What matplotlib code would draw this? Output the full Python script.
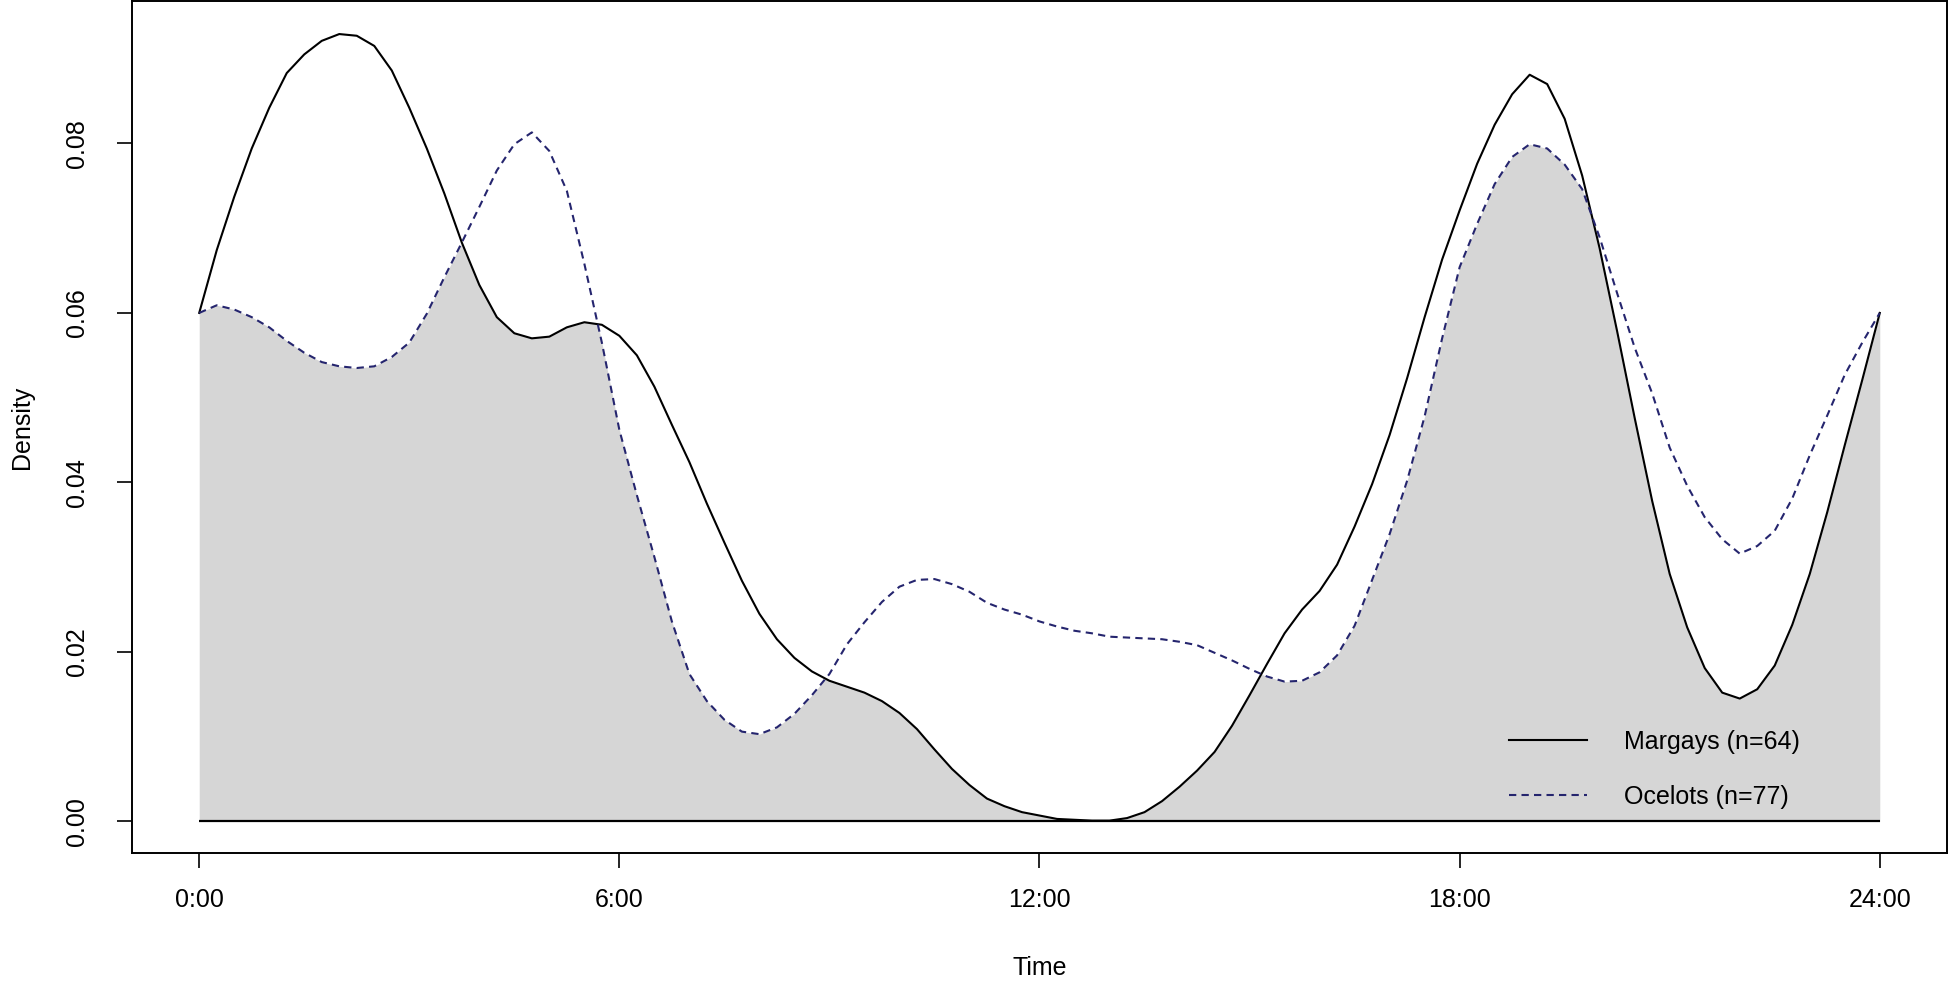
import numpy as np
import matplotlib
matplotlib.use("Agg")
import matplotlib.pyplot as plt

plt.rcParams["font.family"] = ["Liberation Sans", "DejaVu Sans"]

# time of day (hours) and kernel density, every 15 min
hours = np.arange(0, 24.25, 0.25)

margays = [0.0600, 0.0674, 0.0737, 0.0794, 0.0842, 0.0883, 0.0905, 0.0921,
           0.0929, 0.0927, 0.0915, 0.0886, 0.0842, 0.0794, 0.0741, 0.0683,
           0.0633, 0.0595, 0.0576, 0.0570, 0.0572, 0.0583, 0.0589, 0.0586,
           0.0573, 0.0550, 0.0513, 0.0468, 0.0424, 0.0375, 0.0329, 0.0284,
           0.0245, 0.0215, 0.0193, 0.0177, 0.0166, 0.0159, 0.0152, 0.0142,
           0.0128, 0.0109, 0.0085, 0.0062, 0.0043, 0.0027, 0.0018, 0.0011,
           0.0007, 0.0003, 0.0002, 0.0001, 0.0001, 0.0004, 0.0011, 0.0024,
           0.0041, 0.0060, 0.0082, 0.0113, 0.0149, 0.0186, 0.0222, 0.0250,
           0.0272, 0.0303, 0.0348, 0.0398, 0.0456, 0.0523, 0.0595, 0.0663,
           0.0721, 0.0776, 0.0822, 0.0858, 0.0881, 0.0870, 0.0829, 0.0762,
           0.0676, 0.0578, 0.0476, 0.0378, 0.0292, 0.0229, 0.0181, 0.0152,
           0.0145, 0.0156, 0.0184, 0.0232, 0.0292, 0.0365, 0.0444, 0.0521,
           0.0600]

ocelots = [0.0600, 0.0609, 0.0604, 0.0595, 0.0583, 0.0567, 0.0553, 0.0542,
           0.0537, 0.0535, 0.0537, 0.0548, 0.0565, 0.0599, 0.0642, 0.0683,
           0.0725, 0.0768, 0.0799, 0.0813, 0.0791, 0.0744, 0.0658, 0.0565,
           0.0462, 0.0385, 0.0312, 0.0236, 0.0174, 0.0142, 0.0120, 0.0106,
           0.0103, 0.0111, 0.0127, 0.0149, 0.0174, 0.0209, 0.0235, 0.0259,
           0.0277, 0.0285, 0.0286, 0.0280, 0.0271, 0.0258, 0.0250, 0.0244,
           0.0236, 0.0230, 0.0225, 0.0222, 0.0218, 0.0217, 0.0216, 0.0215,
           0.0212, 0.0208, 0.0199, 0.0190, 0.0180, 0.0171, 0.0165, 0.0166,
           0.0176, 0.0196, 0.0231, 0.0285, 0.0339, 0.0402, 0.0478, 0.0570,
           0.0654, 0.0705, 0.0752, 0.0784, 0.0799, 0.0794, 0.0775, 0.0746,
           0.0689, 0.0623, 0.0559, 0.0505, 0.0441, 0.0396, 0.0359, 0.0333,
           0.0316, 0.0325, 0.0343, 0.0381, 0.0432, 0.0479, 0.0527, 0.0565,
           0.0600]

xticks = [0, 6, 12, 18, 24]
xlabels = ["0:00", "6:00", "12:00", "18:00", "24:00"]
yticks = [0.00, 0.02, 0.04, 0.06, 0.08]

fig = plt.figure(figsize=(19.49, 9.82), dpi=100)
ax = fig.add_axes([132 / 1949, 129 / 982, 1815 / 1949, 852 / 982])

# overlap area = min of the two curves (evaluated along the same polylines)
xf = np.linspace(0, 24, 2401)
lo = np.minimum(np.interp(xf, hours, margays), np.interp(xf, hours, ocelots))
ax.fill_between(xf, 0, lo, color="#d6d6d6", lw=0)
ax.hlines(0, 0, 24, color="black", lw=1.6)

ax.plot(hours, margays, color="black", lw=1.5, label="Margays (n=64)")
ax.plot(hours, ocelots, color="#25256e", lw=1.5, linestyle=(0, (3.5, 2.5)),
        label="Ocelots (n=77)")

ax.set_xlim(-0.96, 24.96)
ax.set_ylim(-0.00372, 0.0968)
ax.set_xticks(xticks)
ax.set_xticklabels(xlabels)
ax.set_yticks(yticks)
ax.set_yticklabels(["%.2f" % v for v in yticks])
plt.setp(ax.get_yticklabels(), rotation=90, va="center")

for s in ax.spines.values():
    s.set_linewidth(1.4)
ax.tick_params(axis="both", direction="out", length=11, width=1.2,
               labelsize=18)
ax.tick_params(axis="x", pad=14)
ax.tick_params(axis="y", pad=20)

ax.set_xlabel("Time", fontsize=18)
ax.set_ylabel("Density", fontsize=18)
ax.xaxis.set_label_coords(0.5, -(968 - 853) / 852)
ax.xaxis.label.set_va("center")
ax.yaxis.set_label_coords(-(132 - 22) / 1815, 0.5)
ax.yaxis.label.set_va("center")

ax.legend(loc="center left", bbox_to_anchor=(0.7587, 0.098), frameon=False,
          fontsize=18, handlelength=3.1, handletextpad=1.5, labelspacing=1.25,
          borderpad=0, borderaxespad=0)

fig.savefig("out.png", dpi=100)
